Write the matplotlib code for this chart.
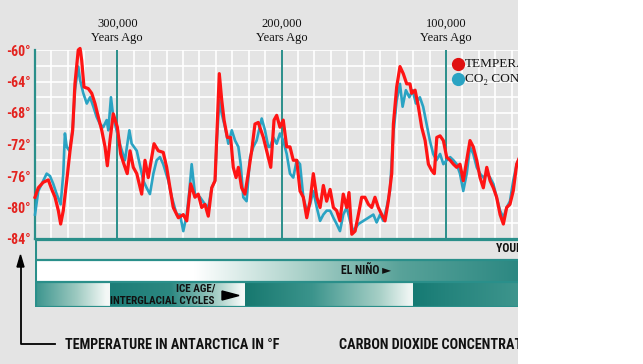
import matplotlib
matplotlib.use('Agg')
import matplotlib.pyplot as plt
import numpy as np
from matplotlib.colors import LinearSegmentedColormap
from matplotlib.patches import Rectangle, Polygon
from matplotlib.lines import Line2D
from matplotlib import font_manager
from matplotlib.transforms import blended_transform_factory

# ---------------- data (thousand years ago / degrees F) ----------------
temp_kya = [350.0, 348.0, 345.0, 341.9, 339.8, 337.8, 335.8, 334.4, 332.8, 330.7,
            328.7, 327.1, 325.7, 323.7, 322.6, 321.6, 320.2, 317.6, 315.5, 313.5,
            311.5, 309.4, 307.4, 306.0, 304.4, 302.4, 299.9, 297.9, 295.9, 293.9,
            292.2, 290.2, 288.1, 285.1, 283.1, 281.1, 279.0, 277.6, 275.0, 272.0,
            269.9, 267.9, 265.9, 262.8, 259.8, 257.7, 255.3, 252.7, 250.7, 248.6,
            246.6, 244.6, 242.5, 240.5, 239.5, 237.9, 236.4, 235.0, 233.0, 231.0,
            229.4, 227.7, 226.3, 224.3, 222.3, 220.3, 218.2, 216.2, 214.2, 211.1,
            208.1, 206.6, 204.6, 203.0, 201.0, 199.0, 196.9, 194.9, 192.9, 190.8,
            188.8, 186.8, 184.7, 182.7, 180.7, 178.6, 176.6, 174.6, 172.6, 170.5,
            168.5, 166.5, 164.5, 162.5, 160.4, 159.0, 157.3, 155.3, 153.3, 151.3,
            149.3, 147.2, 145.2, 143.2, 141.2, 139.1, 137.1, 135.1, 133.0, 132.0,
            130.0, 128.0, 126.0, 123.9, 121.9, 120.9, 118.8, 116.8, 114.8, 112.7,
            110.7, 108.7, 107.1, 105.6, 103.6, 101.6, 99.6, 97.5, 95.5, 93.5,
            91.5, 89.5, 87.4, 85.4, 83.4, 81.3, 79.3, 77.3, 75.2, 73.2,
            71.2, 69.2, 67.1, 65.1, 63.1, 61.1, 59.1, 57.0, 54.0]
temp_f = [-78.7, -77.5, -76.8, -76.5, -77.7, -78.7, -80.4, -82.1, -80.4, -76.6,
          -72.8, -70.2, -64.3, -60.0, -59.8, -61.3, -64.7, -64.9, -65.5, -66.8,
          -68.5, -70.2, -72.3, -74.7, -71.5, -68.1, -69.8, -73.2, -74.5, -75.7,
          -72.8, -74.9, -75.7, -78.3, -74.0, -76.2, -73.6, -71.9, -72.8, -73.0,
          -74.9, -77.5, -80.0, -81.3, -80.9, -81.7, -77.0, -78.7, -78.3, -80.0,
          -79.6, -81.1, -77.5, -76.6, -71.5, -63.0, -66.4, -68.9, -71.1, -71.1,
          -74.9, -76.2, -74.9, -77.5, -78.3, -75.7, -72.8, -69.4, -69.2, -71.1,
          -73.6, -74.9, -68.9, -68.3, -69.8, -68.9, -72.3, -72.3, -74.0, -74.0,
          -77.9, -78.7, -81.3, -79.2, -75.7, -78.7, -80.0, -77.2, -79.2, -77.7,
          -80.0, -80.4, -81.7, -78.3, -80.0, -78.1, -83.4, -83.0, -80.9, -78.7,
          -78.7, -79.6, -80.0, -78.7, -80.0, -80.9, -81.7, -79.2, -75.7, -69.4,
          -64.7, -62.1, -63.0, -64.3, -64.3, -65.5, -65.1, -67.2, -69.8, -71.5,
          -74.5, -75.3, -75.7, -71.1, -70.9, -71.5, -73.6, -74.0, -74.5, -74.9,
          -74.5, -76.6, -74.0, -71.5, -72.3, -74.0, -76.2, -77.5, -74.9, -76.6,
          -77.5, -78.7, -80.9, -82.1, -80.0, -79.6, -77.9, -74.5, -73.0]

# CO2 concentration, drawn on the same (temperature-equivalent) vertical scale
co2_kya = [350.0, 348.0, 345.0, 342.9, 340.9, 338.9, 336.8, 334.4, 332.8, 331.8,
           330.7, 329.1, 327.1, 325.7, 323.7, 322.6, 320.6, 318.5, 316.5, 314.5,
           312.5, 310.5, 308.5, 306.4, 305.4, 303.8, 302.4, 299.9, 297.9, 295.3,
           292.6, 291.2, 288.1, 284.1, 282.1, 280.1, 278.0, 276.0, 274.0, 272.0,
           268.9, 266.8, 263.8, 261.8, 259.8, 257.7, 256.1, 254.7, 252.7, 249.6,
           246.6, 244.6, 242.5, 240.5, 239.5, 237.9, 236.4, 234.4, 232.4, 230.3,
           228.3, 226.3, 224.9, 223.3, 221.3, 219.2, 217.2, 215.2, 214.2, 212.1,
           210.1, 208.1, 207.0, 205.0, 203.0, 201.0, 199.0, 196.9, 194.9, 192.9,
           190.8, 188.8, 186.8, 184.7, 182.7, 180.7, 178.6, 176.6, 174.6, 172.6,
           170.5, 168.5, 166.5, 164.5, 162.5, 160.4, 158.4, 156.4, 153.3, 150.3,
           147.2, 144.2, 142.2, 140.1, 138.1, 136.1, 134.1, 132.0, 130.0, 128.0,
           126.4, 124.4, 122.3, 120.3, 118.3, 115.9, 113.9, 111.8, 109.8, 107.8,
           105.8, 103.6, 101.6, 99.6, 97.5, 95.5, 93.5, 91.5, 89.5, 87.4,
           85.4, 83.4, 81.3, 79.3, 77.3, 75.2, 73.2, 71.2, 69.2, 67.1,
           65.1, 63.1, 61.1, 59.1, 57.0, 54.0]
co2_val = [-80.9, -77.9, -76.6, -75.7, -76.0, -77.0, -78.3, -79.6, -75.7, -70.6,
           -72.3, -72.8, -70.2, -65.1, -62.1, -63.8, -65.5, -66.8, -66.0, -67.2,
           -68.5, -69.4, -69.8, -68.9, -70.2, -66.0, -68.5, -70.6, -72.3, -74.0,
           -70.2, -71.9, -72.8, -76.6, -77.5, -78.3, -75.7, -74.0, -73.6, -74.5,
           -76.6, -78.7, -80.9, -80.9, -83.0, -80.9, -77.9, -74.5, -78.3, -78.7,
           -79.6, -80.0, -77.5, -76.6, -71.9, -66.4, -68.1, -69.8, -71.9, -70.2,
           -71.5, -72.3, -74.5, -78.7, -79.2, -73.6, -72.3, -71.5, -70.6, -68.7,
           -70.2, -72.3, -72.3, -71.1, -71.9, -70.6, -71.5, -73.2, -75.7, -76.2,
           -74.0, -74.5, -78.7, -80.4, -79.6, -77.9, -80.0, -81.7, -80.9, -80.4,
           -80.4, -81.3, -82.1, -83.0, -80.9, -80.0, -81.7, -83.0, -82.1, -81.7,
           -81.3, -80.9, -81.9, -80.9, -81.7, -80.0, -77.9, -70.6, -66.4, -64.3,
           -67.2, -65.1, -66.0, -65.1, -66.8, -66.0, -67.2, -69.4, -71.5, -73.2,
           -74.0, -73.2, -74.5, -74.0, -73.6, -74.0, -74.5, -75.7, -77.9, -75.7,
           -72.3, -73.2, -74.9, -75.7, -76.2, -75.7, -76.2, -77.0, -78.7, -80.4,
           -81.3, -80.0, -79.2, -76.6, -74.5, -73.0]

y_ticks = [-60, -64, -68, -72, -76, -80, -84]
y_tick_labels = ['-60°', '-64°', '-68°', '-72°', '-76°', '-80°', '-84°']
era_marks = [300, 200, 100]
era_labels = ['300,000', '200,000', '100,000']
legend_labels = ['TEMPERATURE', 'CO\u2082 CONCENTRATION']
band_texts = ['YOUNGER DRYAS', 'EL NIÑO \u25ba', 'ICE AGE/', 'INTERGLACIAL CYCLES']
bottom_texts = ['TEMPERATURE IN ANTARCTICA IN °F', 'CARBON DIOXIDE CONCENTRATION']

# ---------------- style ----------------
W, H = 643, 364
GREY = '#e4e4e4'
RED = '#ff1414'
CYAN = '#2aa3c3'
TEAL = '#2a8f8a'
TICKRED = '#e3231f'

names = {f.name for f in font_manager.fontManager.ttflist}
COND = 'DejaVu Sans'
for cand in ['Liberation Sans Narrow', 'Roboto Condensed', 'DejaVu Sans Condensed', 'Open Sans Condensed']:
    if cand in names:
        COND = cand
        break
SANS = [COND, 'DejaVu Sans']
SERIF = ['Liberation Serif', 'DejaVu Serif']

fig = plt.figure(figsize=(W / 100, H / 100), dpi=100, facecolor='white')


def fx(x):
    return x / W


def fy(y):
    return 1 - y / H


fig.patches.append(Rectangle((0, 0), fx(518), 1, transform=fig.transFigure,
                             facecolor=GREY, edgecolor='none', zorder=-10))

PX_PER_KY = (446 - 35) / 250.0
X_LEFT = 350.0
X_RIGHT = X_LEFT - (518 - 35) / PX_PER_KY


def kya(xpx):
    return X_LEFT - (xpx - 35) / PX_PER_KY


# ---------------- main chart ----------------
ax = fig.add_axes([fx(35), fy(239), fx(518) - fx(35), fy(50) - fy(239)])
ax.set_facecolor(GREY)
ax.set_xlim(X_LEFT, X_RIGHT)
ax.set_ylim(-84, -60)
ax.set_xticks(np.arange(60, 351, 10))
ax.set_xticklabels([])
ax.set_yticks(y_ticks)
ax.set_yticklabels(y_tick_labels, color=TICKRED, fontweight='bold',
                   fontsize=10, family=SANS)
ax.set_yticks(np.arange(-84, -59, 2), minor=True)
ax.tick_params(axis='both', which='both', length=0, pad=3)
ax.grid(True, which='both', color='white', lw=1.2, zorder=0)
ax.set_axisbelow(True)
for s in ['top', 'right']:
    ax.spines[s].set_visible(False)
for s in ['left', 'bottom']:
    ax.spines[s].set_color(TEAL)
    ax.spines[s].set_linewidth(1.6)

for m in era_marks:
    ax.axvline(m, color=TEAL, lw=1.4, zorder=2)

ax.plot(co2_kya, co2_val, color=CYAN, lw=1.9, zorder=3, clip_on=False,
        solid_joinstyle='round')
ax.plot(temp_kya, temp_f, color=RED, lw=2.3, zorder=4, clip_on=False,
        solid_joinstyle='round')

trans = blended_transform_factory(ax.transData, fig.transFigure)
for m, lab in zip(era_marks, era_labels):
    ax.text(m, fy(24), lab, transform=trans, ha='center', va='center',
            family=SERIF, fontsize=9, color='#111111')
    ax.text(m, fy(38), 'Years Ago', transform=trans, ha='center', va='center',
            family=SERIF, fontsize=9, color='#111111')

# legend
fig.add_artist(Line2D([fx(458)], [fy(64)], marker='o', ms=8.5, color='#e01010',
                      transform=fig.transFigure, zorder=5))
fig.add_artist(Line2D([fx(458)], [fy(79)], marker='o', ms=8.5, color=CYAN,
                      transform=fig.transFigure, zorder=5))
fig.text(fx(465), fy(64), legend_labels[0], family=SERIF, fontsize=9.5,
         va='center', ha='left', color='#111111')
fig.text(fx(465), fy(79), legend_labels[1], family=SERIF, fontsize=9.5,
         va='center', ha='left', color='#111111')

# ---------------- bands ----------------
bx = fig.add_axes([fx(35), fy(307), fx(518) - fx(35), fy(239) - fy(307)])
bx.set_facecolor(GREY)
bx.axis('off')


def grad(x0px, x1px, y0, y1, stops):
    cmap = LinearSegmentedColormap.from_list('g', stops)
    img = np.linspace(0, 1, 256)[None, :]
    bx.imshow(img, extent=[kya(x0px), kya(x1px), y1, y0], aspect='auto',
              cmap=cmap, interpolation='bilinear', zorder=1)


# el nino band (y 21..43)
grad(35, 518, 21, 43, [(0, 'white'), (0.33, 'white'), (0.55, '#acd2ca'),
                       (0.76, '#58a299'), (1, '#2c8882')])
# ice age band (y 43..68)
grad(35, 110, 43, 68, [(0, '#3a948d'), (0.55, '#9cc9c0'), (0.95, '#f3f8f6'), (1, '#f5f8f7')])
grad(110, 245, 43, 68, [(0, '#1c7d77'), (0.45, '#2c8881'), (0.8, '#a9d0c8'), (0.98, '#f5f9f7'), (1, '#f5f9f7')])
grad(245, 413, 43, 68, [(0, '#17786f'), (0.4, '#3b948c'), (0.8, '#a6cfc6'), (0.98, '#eef5f3'), (1, '#eef5f3')])
grad(413, 518, 43, 68, [(0, '#157a73'), (0.3, '#23837c'), (1, '#3e958d')])

bx.set_xlim(X_LEFT, X_RIGHT)
bx.set_ylim(68, 0)
for yb in [0.5, 20.5, 42.5, 67.5]:
    bx.axhline(yb, color=TEAL, lw=1.6, zorder=3)
bx.axvline(X_LEFT, color=TEAL, lw=2.2, zorder=3)

bx.text(kya(496), 10, band_texts[0], ha='left', va='center', fontsize=8.5,
        fontweight='bold', family=SANS, color='#111111', zorder=4)
bx.text(kya(341), 32, band_texts[1], ha='left', va='center', fontsize=8.5,
        fontweight='bold', family=SANS, color='#111111', zorder=4)
bx.text(kya(215), 49, band_texts[2], ha='right', va='center', fontsize=8,
        fontweight='bold', family=SANS, color='#111111', zorder=4)
bx.text(kya(215), 62.5, band_texts[3], ha='right', va='center', fontsize=8,
        fontweight='bold', family=SANS, color='#111111', zorder=4)
bx.add_patch(Polygon([(kya(222), 52), (kya(222), 61), (kya(239), 56.5)],
                     closed=True, color='black', zorder=4))

# ---------------- bottom labels & arrow ----------------
fig.add_artist(Line2D([fx(20.5), fx(20.5), fx(55)], [fy(264), fy(344), fy(344)],
                      transform=fig.transFigure, color='black', lw=1.3))
fig.patches.append(Polygon([(fx(17), fy(267)), (fx(24), fy(267)), (fx(20.5), fy(255))],
                           closed=True, transform=fig.transFigure, color='black'))
fig.text(fx(65), fy(345), bottom_texts[0], ha='left', va='center', fontsize=10.2,
         fontweight='bold', family=SANS, color='#111111')
fig.text(fx(339), fy(345), bottom_texts[1], ha='left', va='center', fontsize=10.2,
         fontweight='bold', family=SANS, color='#111111')

# white area to the right of the panel (crop of the original graphic)
fig.patches.append(Rectangle((fx(518), 0), 1 - fx(518), 1, transform=fig.transFigure,
                             facecolor='white', edgecolor='none', zorder=50))

fig.savefig('out.png', dpi=100, facecolor='white')
